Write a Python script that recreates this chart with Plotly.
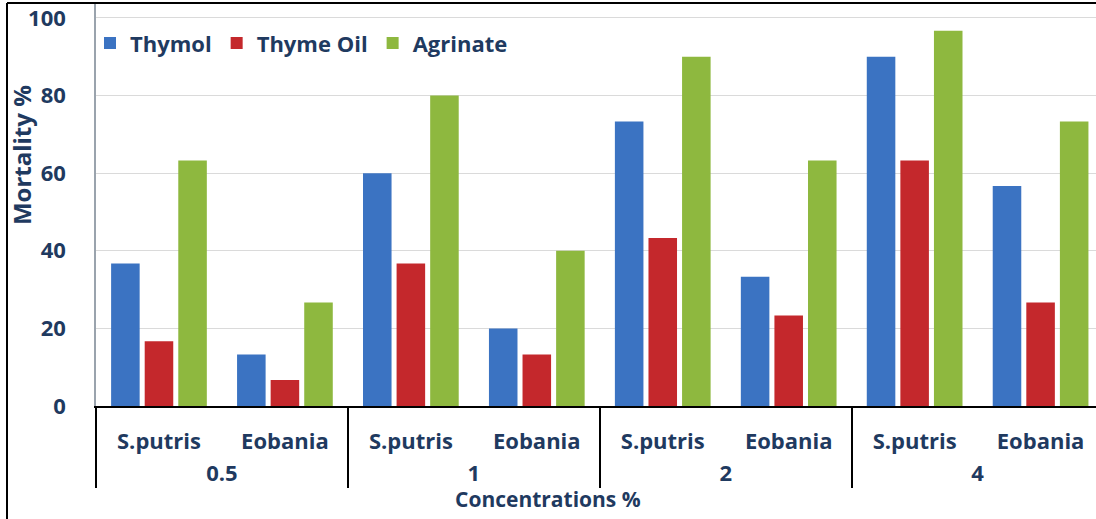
import plotly.graph_objects as go

# Concentration groups and the two insect species tested at each
concentrations = ["0.5", "0.5", "1", "1", "2", "2", "4", "4"]
species = ["S.putris", "Eobania"] * 4

# Mortality (%) per treatment
thymol = [36.7, 13.3, 60.0, 20.0, 73.3, 33.3, 90.0, 56.7]
thyme_oil = [16.7, 6.7, 36.7, 13.3, 43.3, 23.3, 63.3, 26.7]
agrinate = [63.3, 26.7, 80.0, 40.0, 90.0, 63.3, 96.7, 73.3]

y_ticks = [0, 20, 40, 60, 80, 100]

TEXT = "#1F3A60"
FONT = "Open Sans"

x = [concentrations, species]
x_range = [-0.5, 7.44]

fig = go.Figure()
for name, vals, color in [
    ("Thymol", thymol, "#3B73C2"),
    ("Thyme Oil", thyme_oil, "#C4282C"),
    ("Agrinate", agrinate, "#8EB83F"),
]:
    fig.add_trace(go.Bar(x=x, y=vals, name=name, marker=dict(color=color, line=dict(width=0))))

# Invisible companion trace carrying the labelled category axis below the bars
fig.add_trace(go.Scatter(
    x=x, y=[0] * len(species), xaxis="x2", mode="markers",
    marker=dict(opacity=0), showlegend=False, hoverinfo="skip",
))

fig.update_layout(
    width=1096,
    height=519,
    margin=dict(l=96, r=0, t=4, b=93),
    paper_bgcolor="white",
    plot_bgcolor="white",
    barmode="group",
    bargap=0.2,
    bargroupgap=0.15,
    font=dict(family=FONT, color=TEXT, size=20),
    legend=dict(
        orientation="h",
        x=-0.006,
        y=0.957,
        xanchor="left",
        yanchor="top",
        font=dict(family=FONT, size=22, color=TEXT, weight="bold"),
        bgcolor="rgba(0,0,0,0)",
        itemwidth=30,
        traceorder="normal",
    ),
    # Baseline axis: draws the black axis line and the upper part of the group dividers
    xaxis=dict(
        type="multicategory",
        range=x_range,
        showline=True,
        linecolor="#000000",
        linewidth=1.5,
        showdividers=True,
        dividercolor="#000000",
        dividerwidth=1.5,
        ticks="",
        tickfont=dict(family=FONT, size=10, color="rgba(0,0,0,0)"),
        showgrid=False,
    ),
    # Labelled category axis, set slightly below the baseline
    xaxis2=dict(
        type="multicategory",
        overlaying="x",
        anchor="free",
        position=0,
        range=x_range,
        showline=False,
        showdividers=True,
        dividercolor="#000000",
        dividerwidth=1.5,
        ticks="",
        tickfont=dict(family=FONT, size=22, color=TEXT, weight="bold"),
        showgrid=False,
    ),
    yaxis=dict(
        domain=[20 / 422, 1],
        range=[0, 103.6],
        tickvals=y_ticks,
        showgrid=True,
        gridcolor="#DADADA",
        gridwidth=1,
        showline=True,
        linecolor="#9AA3AD",
        linewidth=1.5,
        ticks="",
        ticklabelstandoff=24,
        tickfont=dict(family=FONT, size=22, color=TEXT, weight="bold"),
        zeroline=False,
    ),
)

# Axis titles
fig.add_annotation(
    text="Mortality %", xref="paper", yref="paper",
    x=-0.075, y=0.642, xanchor="center", yanchor="middle",
    textangle=-90, showarrow=False,
    font=dict(family=FONT, size=24, color=TEXT, weight="bold"),
)
fig.add_annotation(
    text="Concentrations %", xref="paper", yref="paper",
    x=0.452, y=-0.173, xanchor="center", yanchor="middle",
    showarrow=False,
    font=dict(family=FONT, size=21, color=TEXT, weight="bold"),
)

# Frame lines along the top and left edges
fig.add_shape(type="line", xref="paper", yref="paper",
              x0=-0.089, x1=1.0, y0=1.0024, y1=1.0024,
              line=dict(color="#000000", width=2))
fig.add_shape(type="line", xref="paper", yref="paper",
              x0=-0.089, x1=-0.089, y0=1.0024, y1=-0.25,
              line=dict(color="#000000", width=2))

fig.write_html("out.html")
